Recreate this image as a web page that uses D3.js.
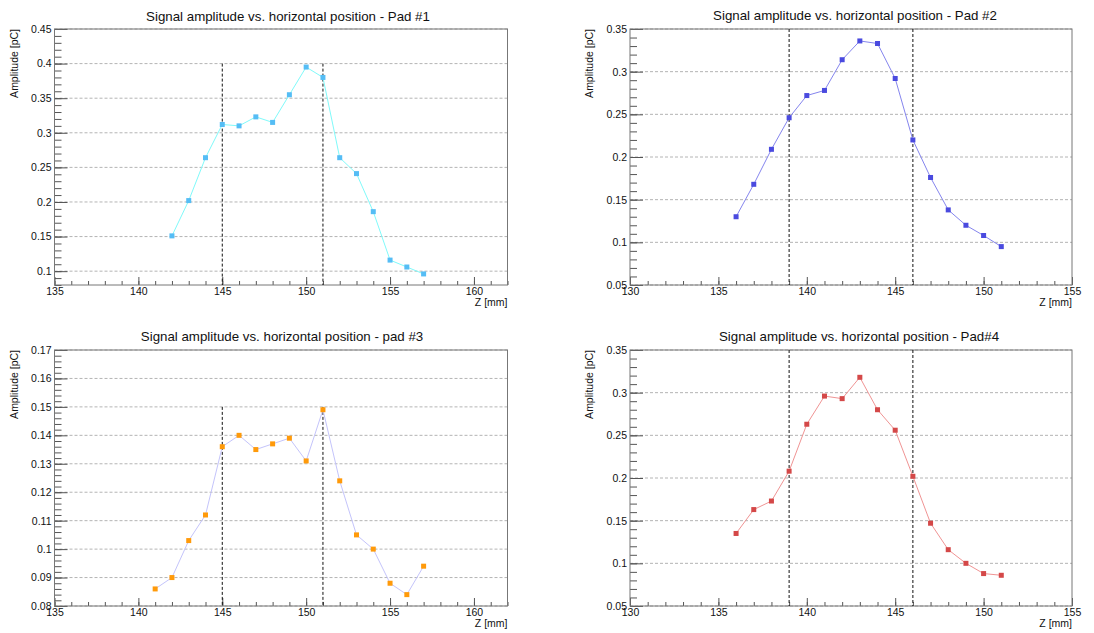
<!DOCTYPE html>
<html>
<head>
<meta charset="utf-8">
<script src="https://cdn.jsdelivr.net/npm/d3@7"></script>
<style>
    body { margin: 0; background: #fff; }
    text { font-family: 'Liberation Sans', Arial, Helvetica, sans-serif; fill: #111; }
    .pad_title { font-size: 13.3px; }
    .pad_axisTitle, .tick text { font-size: 10.5px; }
    .tick line { stroke: #555; }
    .domain { display: none; }
</style>
</head>
<body>
<svg id="chart" width="1094" height="633"></svg>
<script>
// Measured amplitudes per pad
const zPad1 = [142, 143, 144, 145, 146, 147, 148, 149, 150, 151, 152, 153, 154, 155, 156, 157];
const ampPad1 = [0.151, 0.202, 0.264, 0.312, 0.310, 0.323, 0.315, 0.355, 0.395, 0.380, 0.264, 0.241, 0.186, 0.116, 0.106, 0.096];

const zPad2 = [136, 137, 138, 139, 140, 141, 142, 143, 144, 145, 146, 147, 148, 149, 150, 151];
const ampPad2 = [0.130, 0.168, 0.209, 0.246, 0.272, 0.278, 0.314, 0.336, 0.333, 0.292, 0.220, 0.176, 0.138, 0.120, 0.108, 0.095];

const zPad3 = [141, 142, 143, 144, 145, 146, 147, 148, 149, 150, 151, 152, 153, 154, 155, 156, 157];
const ampPad3 = [0.086, 0.090, 0.103, 0.112, 0.136, 0.140, 0.135, 0.137, 0.139, 0.131, 0.149, 0.124, 0.105, 0.100, 0.088, 0.084, 0.094];

const zPad4 = [136, 137, 138, 139, 140, 141, 142, 143, 144, 145, 146, 147, 148, 149, 150, 151];
const ampPad4 = [0.135, 0.163, 0.173, 0.208, 0.263, 0.296, 0.293, 0.318, 0.280, 0.256, 0.202, 0.147, 0.116, 0.100, 0.088, 0.086];

// Pad edges (dashed lines) and how high they go
const cutsPad1 = [145, 151], cutTopPad1 = 0.4;
const cutsPad2 = [139, 146], cutTopPad2 = 0.35;
const cutsPad3 = [145, 151], cutTopPad3 = 0.15;
const cutsPad4 = [139, 146], cutTopPad4 = 0.35;

const titles = [
    'Signal amplitude vs. horizontal position - Pad #1',
    'Signal amplitude vs. horizontal position - Pad #2',
    'Signal amplitude vs. horizontal position - pad #3',
    'Signal amplitude vs. horizontal position - Pad#4'
];
const xDomains = [[135, 162], [130, 155], [135, 162], [130, 155]];
const yDomains = [[0.08, 0.45], [0.05, 0.35], [0.08, 0.17], [0.05, 0.35]];
const yMajorSteps = [0.05, 0.05, 0.01, 0.05];
const yMinorSteps = [0.01, 0.01, 0.002, 0.01];

const pads = [
    { left: 54.5, top: 29, width: 453, height: 256, titleX: 288, titleY: 20.5, z: zPad1, amp: ampPad1, cuts: cutsPad1, cutTop: cutTopPad1, line: '#80fafa', marker: '#55bdf5' },
    { left: 630, top: 29, width: 442, height: 256, titleX: 855, titleY: 20, z: zPad2, amp: ampPad2, cuts: cutsPad2, cutTop: cutTopPad2, line: '#8585ee', marker: '#4a4adf' },
    { left: 54.5, top: 350, width: 453, height: 256, titleX: 282, titleY: 341, z: zPad3, amp: ampPad3, cuts: cutsPad3, cutTop: cutTopPad3, line: '#c4c4fb', marker: '#ff9a0a' },
    { left: 630, top: 350, width: 442, height: 256, titleX: 859, titleY: 341, z: zPad4, amp: ampPad4, cuts: cutsPad4, cutTop: cutTopPad4, line: '#f09494', marker: '#d44848' }
];

function stepTicks(domain, step){
    let ticks = [];
    let first = Math.ceil(domain[0] / step - 1e-9),
        last = Math.floor(domain[1] / step + 1e-9);
    for (let i = first; i <= last; i++){
        ticks.push(+(i * step).toFixed(4));
    }
    return ticks;
}

function drawPad(svg, pad, i){
    let x = d3.scaleLinear().domain(xDomains[i]).range([0, pad.width]),
        y = d3.scaleLinear().domain(yDomains[i]).range([pad.height, 0]);

    let g = svg.append('g')
        .attr('class', 'pad')
        .attr('transform', 'translate(' + pad.left + ',' + pad.top + ')');

    let yMajor = stepTicks(yDomains[i], yMajorSteps[i]),
        yMinor = stepTicks(yDomains[i], yMinorSteps[i]),
        xMajor = stepTicks(xDomains[i], 5),
        xMinor = stepTicks(xDomains[i], 1);

    // Horizontal grid
    g.append('g')
        .selectAll('line')
        .data(yMajor)
        .enter().append('line')
        .attr('x1', 0)
        .attr('x2', pad.width)
        .attr('y1', d => y(d))
        .attr('y2', d => y(d))
        .attr('stroke', '#b4b4b4')
        .attr('stroke-dasharray', '3,2');

    // Ticks point into the frame
    g.append('g')
        .call(d3.axisLeft(y).tickValues(yMinor).tickSize(-7).tickSizeOuter(0).tickFormat(''));
    g.append('g')
        .call(d3.axisLeft(y).tickValues(yMajor).tickSize(-13).tickSizeOuter(0).tickPadding(3)
            .tickFormat(d => String(+d.toFixed(3))));

    g.append('g')
        .attr('transform', 'translate(0,' + pad.height + ')')
        .call(d3.axisBottom(x).tickValues(xMinor).tickSize(-4).tickSizeOuter(0).tickFormat(''));
    g.append('g')
        .attr('transform', 'translate(0,' + pad.height + ')')
        .call(d3.axisBottom(x).tickValues(xMajor).tickSize(-8).tickSizeOuter(0).tickPadding(3)
            .tickFormat(d3.format('d')));

    // Frame
    g.append('rect')
        .attr('width', pad.width)
        .attr('height', pad.height)
        .attr('fill', 'none')
        .attr('stroke', '#777');

    // Pad boundaries
    g.append('g')
        .selectAll('line')
        .data(pad.cuts)
        .enter().append('line')
        .attr('x1', d => x(d))
        .attr('x2', d => x(d))
        .attr('y1', y(pad.cutTop))
        .attr('y2', pad.height)
        .attr('stroke', '#111')
        .attr('stroke-dasharray', '3,2');

    let points = pad.z.map((z, k) => [z, pad.amp[k]]);

    g.append('path')
        .datum(points)
        .attr('fill', 'none')
        .attr('stroke', pad.line)
        .attr('stroke-width', 1)
        .attr('d', d3.line().x(d => x(d[0])).y(d => y(d[1])));

    g.append('g')
        .selectAll('rect')
        .data(points)
        .enter().append('rect')
        .attr('x', d => x(d[0]) - 2.5)
        .attr('y', d => y(d[1]) - 2.5)
        .attr('width', 5)
        .attr('height', 5)
        .attr('fill', pad.marker);

    // Titles
    svg.append('text')
        .attr('class', 'pad_title')
        .attr('x', pad.titleX)
        .attr('y', pad.titleY)
        .attr('text-anchor', 'middle')
        .text(titles[i]);

    g.append('text')
        .attr('class', 'pad_axisTitle')
        .attr('text-anchor', 'end')
        .attr('transform', 'translate(-37,0) rotate(-90)')
        .text('Amplitude [pC]');

    g.append('text')
        .attr('class', 'pad_axisTitle')
        .attr('text-anchor', 'end')
        .attr('x', pad.width)
        .attr('y', pad.height + 21)
        .text('Z [mm]');
}

let svg = d3.select('#chart');
svg.append('rect').attr('width', 1094).attr('height', 633).attr('fill', '#fff');
pads.forEach((pad, i) => drawPad(svg, pad, i));
</script>
</body>
</html>
